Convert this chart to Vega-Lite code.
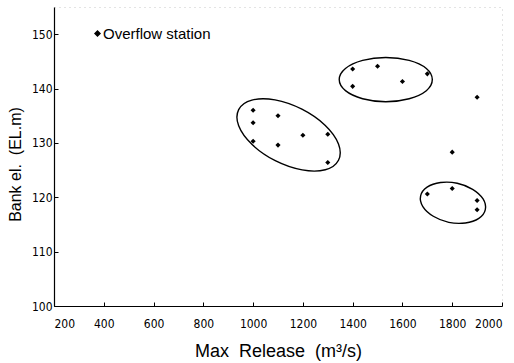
{
  "$schema": "https://vega.github.io/schema/vega-lite/v6.json",
  "width": 448,
  "height": 299,
  "autosize": "none",
  "padding": {"left": 54, "top": 7, "right": 12, "bottom": 57},
  "background": "white",
  "config": {
    "view": {"stroke": "#c8c8c8", "strokeDash": [1, 4], "strokeWidth": 1},
    "font": "Liberation Sans"
  },
  "datasets": {
    "stations": [
      {"release": 1400, "bank": 143.6, "type": "Overflow station"},
      {"release": 1500, "bank": 144.1, "type": "Overflow station"},
      {"release": 1400, "bank": 140.4, "type": "Overflow station"},
      {"release": 1600, "bank": 141.3, "type": "Overflow station"},
      {"release": 1700, "bank": 142.7, "type": "Overflow station"},
      {"release": 1900, "bank": 138.4, "type": "Overflow station"},
      {"release": 1000, "bank": 136.0, "type": "Overflow station"},
      {"release": 1000, "bank": 133.7, "type": "Overflow station"},
      {"release": 1100, "bank": 135.0, "type": "Overflow station"},
      {"release": 1000, "bank": 130.3, "type": "Overflow station"},
      {"release": 1100, "bank": 129.6, "type": "Overflow station"},
      {"release": 1200, "bank": 131.4, "type": "Overflow station"},
      {"release": 1300, "bank": 131.6, "type": "Overflow station"},
      {"release": 1300, "bank": 126.4, "type": "Overflow station"},
      {"release": 1800, "bank": 128.3, "type": "Overflow station"},
      {"release": 1700, "bank": 120.6, "type": "Overflow station"},
      {"release": 1800, "bank": 121.6, "type": "Overflow station"},
      {"release": 1900, "bank": 119.4, "type": "Overflow station"},
      {"release": 1900, "bank": 117.7, "type": "Overflow station"}
    ],
    "ellipses": [
      {"g": "A", "i": 0, "release": 1343, "bank": 126.81},
      {"g": "A", "i": 1, "release": 1290, "bank": 125.06},
      {"g": "A", "i": 2, "release": 1197, "bank": 125.03},
      {"g": "A", "i": 3, "release": 1089, "bank": 126.73},
      {"g": "A", "i": 4, "release": 996, "bank": 129.69},
      {"g": "A", "i": 5, "release": 942, "bank": 133.14},
      {"g": "A", "i": 6, "release": 942, "bank": 136.13},
      {"g": "A", "i": 7, "release": 995, "bank": 137.87},
      {"g": "A", "i": 8, "release": 1088, "bank": 137.91},
      {"g": "A", "i": 9, "release": 1196, "bank": 136.2},
      {"g": "A", "i": 10, "release": 1289, "bank": 133.25},
      {"g": "A", "i": 11, "release": 1343, "bank": 129.8},
      {"g": "B", "i": 0, "release": 1720, "bank": 141.65},
      {"g": "B", "i": 1, "release": 1696, "bank": 143.69},
      {"g": "B", "i": 2, "release": 1627, "bank": 145.17},
      {"g": "B", "i": 3, "release": 1533, "bank": 145.72},
      {"g": "B", "i": 4, "release": 1440, "bank": 145.17},
      {"g": "B", "i": 5, "release": 1371, "bank": 143.69},
      {"g": "B", "i": 6, "release": 1346, "bank": 141.65},
      {"g": "B", "i": 7, "release": 1371, "bank": 139.61},
      {"g": "B", "i": 8, "release": 1440, "bank": 138.13},
      {"g": "B", "i": 9, "release": 1533, "bank": 137.58},
      {"g": "B", "i": 10, "release": 1627, "bank": 138.13},
      {"g": "B", "i": 11, "release": 1696, "bank": 139.61},
      {"g": "C", "i": 0, "release": 1933, "bank": 117.72},
      {"g": "C", "i": 1, "release": 1907, "bank": 116.11},
      {"g": "C", "i": 2, "release": 1853, "bank": 115.27},
      {"g": "C", "i": 3, "release": 1786, "bank": 115.39},
      {"g": "C", "i": 4, "release": 1724, "bank": 116.51},
      {"g": "C", "i": 5, "release": 1682, "bank": 118.29},
      {"g": "C", "i": 6, "release": 1673, "bank": 120.26},
      {"g": "C", "i": 7, "release": 1699, "bank": 121.87},
      {"g": "C", "i": 8, "release": 1753, "bank": 122.72},
      {"g": "C", "i": 9, "release": 1820, "bank": 122.59},
      {"g": "C", "i": 10, "release": 1882, "bank": 121.47},
      {"g": "C", "i": 11, "release": 1924, "bank": 119.69}
    ]
  },
  "encoding": {
    "x": {
      "field": "release",
      "type": "quantitative",
      "scale": {"domain": [200, 2000], "nice": false, "zero": false},
      "axis": {
        "values": [200, 400, 600, 800, 1000, 1200, 1400, 1600, 1800, 2000],
        "format": "d",
        "grid": false,
        "domainColor": "black",
        "domainWidth": 1.2,
        "tickColor": "black",
        "tickSize": -4,
        "labelFont": "DejaVu Sans Condensed, Liberation Sans",
        "labelFontSize": 12,
        "labelColor": "black",
        "labelBaseline": "alphabetic",
        "labelPadding": 25,
        "title": "Max\u00a0 Release\u00a0 (m³/s)",
        "titleFont": "Liberation Sans",
        "titleFontSize": 18,
        "titleFontWeight": "normal",
        "titleColor": "black",
        "titleBaseline": "alphabetic",
        "titleY": 50
      }
    },
    "y": {
      "field": "bank",
      "type": "quantitative",
      "scale": {"domain": [100, 155], "nice": false, "zero": false},
      "axis": {
        "values": [100, 110, 120, 130, 140, 150],
        "format": "d",
        "grid": false,
        "domainColor": "black",
        "domainWidth": 1.2,
        "tickColor": "black",
        "tickSize": -4,
        "labelFont": "DejaVu Sans Condensed, Liberation Sans",
        "labelFontSize": 12,
        "labelColor": "black",
        "labelPadding": 6,
        "title": "Bank el.\u00a0 (EL.m)",
        "titleFont": "Liberation Sans",
        "titleFontSize": 16,
        "titleFontWeight": "normal",
        "titleColor": "black",
        "titleX": -31,
        "titleY": 157
      }
    }
  },
  "layer": [
    {
      "data": {"name": "ellipses"},
      "mark": {"type": "line", "interpolate": "cardinal-closed", "color": "black", "strokeWidth": 1.4},
      "encoding": {
        "detail": {"field": "g", "type": "nominal"},
        "order": {"field": "i", "type": "quantitative"}
      }
    },
    {
      "data": {"name": "stations"},
      "mark": {"type": "point", "filled": true, "shape": "diamond", "size": 26, "opacity": 1},
      "encoding": {
        "color": {
          "field": "type",
          "type": "nominal",
          "scale": {"range": ["black"]},
          "legend": {
            "title": null,
            "orient": "none",
            "legendX": 36,
            "legendY": 19,
            "padding": 0,
            "symbolSize": 24,
            "symbolType": "diamond",
            "symbolFillColor": "black",
            "symbolStrokeColor": "black",
            "labelFont": "Liberation Sans",
            "labelFontSize": 15,
            "labelColor": "black",
            "labelOffset": -2
          }
        }
      }
    }
  ]
}
